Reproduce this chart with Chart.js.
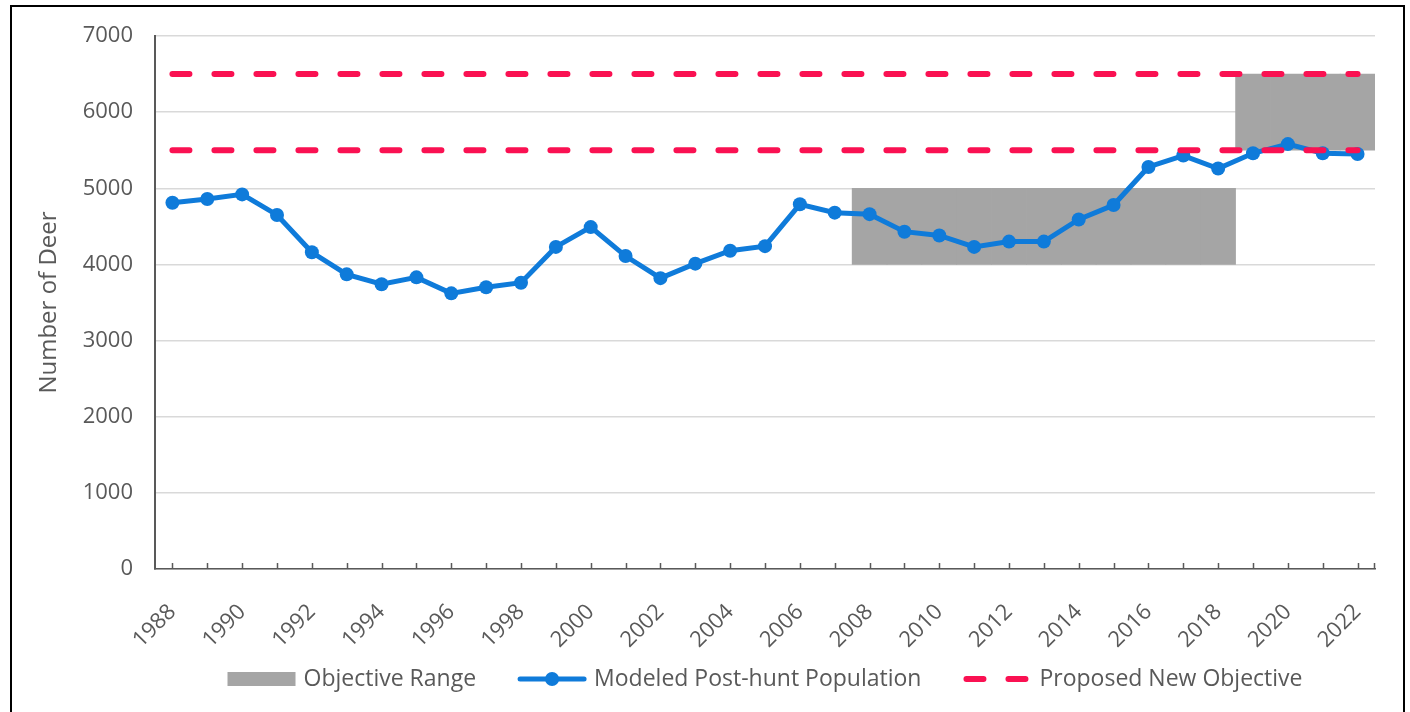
<!DOCTYPE html>
<html><head><meta charset="utf-8">
<script src="https://cdn.jsdelivr.net/npm/chart.js@4.4.1/dist/chart.umd.min.js"></script>
<style>
html,body{margin:0;padding:0;background:#fff;overflow:hidden;}
#wrap{position:absolute;left:0;top:0;width:1410px;height:712px;}
#frame{position:absolute;left:10px;top:5px;width:1395px;height:730px;border:2px solid #000;box-sizing:border-box;pointer-events:none;}
</style></head>
<body>
<div id="wrap"><canvas id="c" width="1410" height="712"></canvas></div>
<div id="frame"></div>
<script>
// ---- data ----
const years = ['1988','1989','1990','1991','1992','1993','1994','1995','1996','1997','1998','1999','2000','2001','2002','2003','2004','2005','2006','2007','2008','2009','2010','2011','2012','2013','2014','2015','2016','2017','2018','2019','2020','2021','2022'];
const population = [4810,4860,4920,4650,4160,3870,3740,3830,3620,3700,3760,4230,4490,4110,3820,4010,4180,4240,4790,4680,4660,4430,4380,4230,4300,4300,4590,4780,5280,5430,5260,5460,5580,5460,5450];
const objectiveRanges = [
  {from:'2008', to:'2018', low:4000, high:5000},
  {from:'2019', to:'2022', low:5500, high:6500}
];
const proposedObjective = [5500, 6500];
const yTicks = [0,1000,2000,3000,4000,5000,6000,7000];
const labels = {objective:'Objective Range', population:'Modeled Post-hunt Population', proposed:'Proposed New Objective', yTitle:'Number of Deer'};

// ---- styles ----
const GRAY = '#A5A5A5', BLUE = '#0F7BDA', RED = '#FA1152', TXT = '#595959';
const TICKFONT = "'Open Sans', sans-serif";
const YFONT = "'Open Sans', sans-serif";

const rangeData = objectiveRanges.map(r => years.map(y => (y >= r.from && y <= r.to) ? [r.low, r.high] : null));

const datasets = [];
rangeData.forEach((d, i) => datasets.push({
  type:'bar', label: labels.objective, data: d, backgroundColor: GRAY, borderWidth: 0,
  barPercentage: 1, categoryPercentage: 1, grouped: false, order: 3, legendKey: i === 0 ? 'box' : null
}));
datasets.push({
  type:'line', label: labels.population, data: population, borderColor: BLUE, backgroundColor: BLUE,
  borderWidth: 5, pointRadius: 7, pointBackgroundColor: BLUE, pointBorderWidth: 0, tension: 0, order: 2, legendKey:'linept'
});
proposedObjective.forEach((v, i) => datasets.push({
  type:'line', label: labels.proposed, data: years.map(() => v), borderColor: RED, borderWidth: 6,
  borderDash: [17, 25], borderCapStyle: 'round', pointRadius: 0, order: 1, legendKey: i === 0 ? 'dash' : null
}));

const insideTicks = {
  id:'insideTicks',
  afterDraw(chart) {
    const xs = chart.scales.x, ctx = chart.ctx, b = chart.chartArea.bottom;
    ctx.save();
    ctx.strokeStyle = TXT; ctx.lineWidth = 1.5;
    ctx.beginPath();
    for (let i = 0; i < years.length; i++) {
      const x = Math.round(xs.getPixelForValue(i)) + 0.5;
      ctx.moveTo(x, b); ctx.lineTo(x, b - 6);
    }
    const xr = Math.round(chart.chartArea.right) - 0.5;
    ctx.moveTo(xr, b); ctx.lineTo(xr, b - 6);
    ctx.stroke();
    ctx.restore();
  }
};

const customLegend = {
  id:'customLegend',
  afterDraw(chart) {
    const ctx = chart.ctx;
    const items = chart.data.datasets.filter(d => d.legendKey);
    const symW = 68, gapT = 8, gapItem = 42;
    ctx.save();
    ctx.font = "23px " + TICKFONT;
    const widths = items.map(it => symW + gapT + ctx.measureText(it.label).width);
    const total = widths.reduce((a, b) => a + b, 0) + gapItem * (items.length - 1);
    const ca = chart.chartArea;
    let x = (ca.left + ca.right) / 2 - total / 2;
    const y = 679;
    items.forEach((it, k) => {
      if (it.legendKey === 'box') {
        ctx.fillStyle = it.backgroundColor;
        ctx.fillRect(x, y - 7, symW, 14);
      } else if (it.legendKey === 'linept') {
        ctx.strokeStyle = it.borderColor; ctx.lineWidth = it.borderWidth; ctx.lineCap = 'round';
        ctx.beginPath(); ctx.moveTo(x + 2, y); ctx.lineTo(x + symW - 2, y); ctx.stroke();
        ctx.fillStyle = it.borderColor;
        ctx.beginPath(); ctx.arc(x + symW / 2, y, 7, 0, Math.PI * 2); ctx.fill();
      } else if (it.legendKey === 'dash') {
        ctx.strokeStyle = it.borderColor; ctx.lineWidth = it.borderWidth; ctx.lineCap = 'round';
        ctx.setLineDash(it.borderDash);
        ctx.beginPath(); ctx.moveTo(x + 3, y); ctx.lineTo(x + symW - 3, y); ctx.stroke();
        ctx.setLineDash([]);
      }
      ctx.fillStyle = TXT; ctx.textBaseline = 'middle'; ctx.textAlign = 'left';
      ctx.fillText(it.label, x + symW + gapT, y);
      x += widths[k] + gapItem;
    });
    ctx.restore();
  }
};

new Chart(document.getElementById('c'), {
  data: { labels: years, datasets },
  options: {
    responsive: false, animation: false,
    layout: { padding: { left: 0, right: 35, top: 36, bottom: 0 } },
    plugins: { legend: { display: false }, tooltip: { enabled: false } },
    scales: {
      x: {
        type: 'category', offset: true,
        grid: { display: false },
        border: { display: true, color: TXT, width: 1.5 },
        ticks: {
          autoSkip: false, maxRotation: 45, minRotation: 45, padding: 22,
          color: TXT, font: { family: TICKFONT, size: 22 },
          callback: (v, i) => (i % 2 === 0 ? years[i] : '')
        },
        afterFit: s => { s.height = 143; }
      },
      y: {
        min: yTicks[0], max: yTicks[yTicks.length - 1],
        afterBuildTicks: s => { s.ticks = yTicks.map(v => ({ value: v })); },
        grid: { color: '#D9D9D9', lineWidth: 1.5, drawTicks: false },
        border: { display: true, color: TXT, width: 2 },
        ticks: { padding: 22, color: TXT, font: { family: YFONT, size: 22 }, callback: v => String(v) },
        title: { display: true, text: labels.yTitle, color: TXT, font: { family: YFONT, size: 24 }, padding: { top: 35, bottom: 0 } },
        afterFit: s => { s.width = 155; }
      }
    }
  },
  plugins: [insideTicks, customLegend]
});
</script>
</body></html>
